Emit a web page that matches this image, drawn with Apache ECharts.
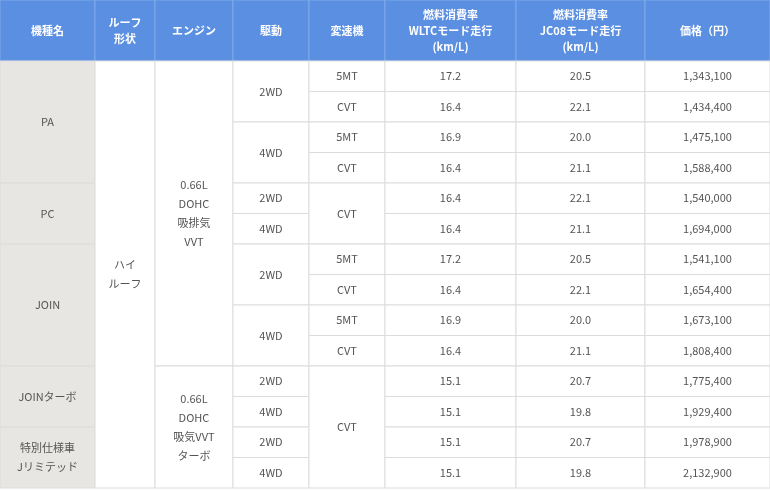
<!DOCTYPE html>
<html><head><meta charset="utf-8">
<script src="https://cdn.jsdelivr.net/npm/echarts@6/dist/echarts.min.js"></script>
<style>html,body{margin:0;padding:0;background:#fff}#c{width:770px;height:490px}</style>
</head><body><div id="c"></div>
<script>
const headers = ['機種名','ルーフ\n形状','エンジン','駆動','変速機','燃料消費率\nWLTCモード走行\n(km/L)','燃料消費率\nJC08モード走行\n(km/L)','価格（円）'];
const models = [['PA',0,4],['PC',4,2],['JOIN',6,4],['JOINターボ',10,2],['特別仕様車\nJリミテッド',12,2]];
const roof = [['ハイ\nルーフ',0,14]];
const engine = [['0.66L\nDOHC\n吸排気\nVVT',0,10],['0.66L\nDOHC\n吸気VVT\nターボ',10,4]];
const drive = [['2WD',0,2],['4WD',2,2],['2WD',4,1],['4WD',5,1],['2WD',6,2],['4WD',8,2],['2WD',10,1],['4WD',11,1],['2WD',12,1],['4WD',13,1]];
const trans = [['5MT',0,1],['CVT',1,1],['5MT',2,1],['CVT',3,1],['CVT',4,2],['5MT',6,1],['CVT',7,1],['5MT',8,1],['CVT',9,1],['CVT',10,4]];
const wltc = [17.2,16.4,16.9,16.4,16.4,16.4,17.2,16.4,16.9,16.4,15.1,15.1,15.1,15.1];
const jc08 = [20.5,22.1,20.0,21.1,22.1,21.1,20.5,22.1,20.0,21.1,20.7,19.8,20.7,19.8];
const price = [1343100,1434400,1475100,1588400,1540000,1694000,1541100,1654400,1673100,1808400,1775400,1929400,1978900,2132900];

// layout (column edges in pixels)
const colEdges = [0,95,155,233,309,385,516,645,770];

const cells = [];
headers.forEach((h,i)=>cells.push({c:i,r:-2,s:2,t:h,k:'h'}));
models.forEach(m=>cells.push({c:0,r:m[1],s:m[2],t:m[0],k:'m'}));
[roof,engine,drive,trans].forEach((arr,j)=>arr.forEach(m=>cells.push({c:j+1,r:m[1],s:m[2],t:m[0],k:'b'})));
wltc.forEach((v,i)=>cells.push({c:5,r:i,s:1,t:v.toFixed(1),k:'b'}));
jc08.forEach((v,i)=>cells.push({c:6,r:i,s:1,t:v.toFixed(1),k:'b'}));
price.forEach((v,i)=>cells.push({c:7,r:i,s:1,t:v.toLocaleString('en-US'),k:'b'}));

const chart = echarts.init(document.getElementById('c'));
chart.setOption({
  animation:false,
  grid:{left:0,right:0,top:0,bottom:2},
  xAxis:{type:'value',min:0,max:770,show:false},
  yAxis:{type:'value',min:-2,max:14,inverse:true,show:false},
  series:[{
    type:'custom',
    data:cells.map(d=>[colEdges[d.c],d.r,colEdges[d.c+1],d.r+d.s]),
    renderItem:(params,api)=>{
      const d=cells[params.dataIndex];
      const p0=api.coord([api.value(0),api.value(1)]);
      const p1=api.coord([api.value(2),api.value(3)]);
      const x=p0[0],y=p0[1],w=p1[0]-p0[0],h=p1[1]-p0[1];
      const isH=d.k==='h';
      const fill=isH?'#5b8fe2':(d.k==='m'?'#e8e6e3':'#ffffff');
      return {type:'group',children:[
        {type:'rect',shape:{x:x,y:y,width:w,height:h},
         style:{fill:fill,stroke:isH?'#80a9ea':'#dcdcdc',lineWidth:1}},
        {type:'text',x:x+w/2,y:y+h/2,
         style:{text:d.t,align:'center',verticalAlign:'middle',
           fill:isH?'#ffffff':'#555555',fontSize:11,
           fontWeight:isH?'bold':'normal',
           lineHeight:isH?16:19,
           fontFamily:'"Noto Sans CJK JP","Noto Sans",sans-serif'}}
      ]};
    }
  }]
});
</script></body></html>
